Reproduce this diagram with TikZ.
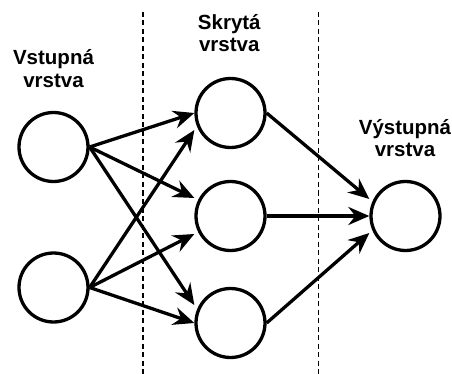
\documentclass[tikz,border=0pt]{standalone}
\usepackage{fontspec}
\setmainfont{Liberation Sans}
\usepackage{tikz}
\usetikzlibrary{arrows.meta,positioning}
\tikzstyle{neuron}=[draw,circle,minimum size=69pt,inner sep=0pt,line width=3.3pt]
\tikzstyle{layer}=[font=\bfseries\fontsize{20.5}{22.5}\selectfont,align=center,anchor=base,inner sep=0pt]
\tikzstyle{conn}=[line width=3.3pt,-{Stealth[length=21pt,width=18pt,inset=7pt]}]
\tikzstyle{border}=[line width=1.6pt,dash pattern=on 5pt off 3.5pt]

\begin{document}
\begin{tikzpicture}[x=1pt,y=-1pt]
\useasboundingbox (0,0) rectangle (452,374);

% layer borders
\draw [border] (142.7,12) -- (142.7,374);
\draw [border] (318.3,12) -- (318.3,374);

% neurons
\node [neuron] (in1) at (53.5,147) {};
\node [neuron] (in2) at (53.5,287.5) {};
\node [neuron] (h1) at (230.5,113) {};
\node [neuron] (h2) at (230.5,216) {};
\node [neuron] (h3) at (230.5,323) {};
\node [neuron] (out) at (405.5,216) {};

% layer names (base = last line)
\node [layer] (lin) at (53.5,87.3) {Vstupná\\vrstva};
\node [layer] (lhid) at (229.3,51.7) {Skrytá\\vrstva};
\node [layer] (lout) at (405,156.7) {Výstupná\\vrstva};

% input -> hidden
\draw [conn] (in1.east) -- (h1.west);
\draw [conn] (in1.east) -- ([yshift=18pt]h2.west);
\draw [conn] (in1.east) -- ([yshift=18pt]h3.west);
\draw [conn] (in2.east) -- ([yshift=-17pt]h1.west);
\draw [conn] (in2.east) -- ([yshift=-18pt]h2.west);
\draw [conn] (in2.east) -- (h3.west);

% hidden -> output
\draw [conn] (h1.east) -- ([yshift=17pt]out.west);
\draw [conn] (h2.east) -- (out.west);
\draw [conn] (h3.east) -- ([yshift=-17pt]out.west);
\end{tikzpicture}
\end{document}
